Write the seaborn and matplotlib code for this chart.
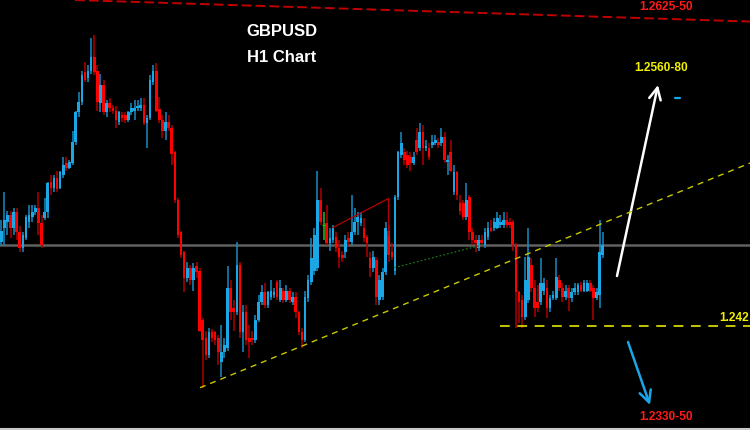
import numpy as np
import pandas as pd
import matplotlib
matplotlib.use("Agg")
import matplotlib.pyplot as plt
import seaborn as sns
from matplotlib.lines import Line2D

# --- GBPUSD H1 candles (oldest first) ---
opens = [1.2475, 1.2484, 1.2488, 1.2492, 1.2484, 1.2494, 1.2481, 1.2471, 1.2477, 1.2488,
         1.2491, 1.2494, 1.2497, 1.2487, 1.2490, 1.2494, 1.2514, 1.2510, 1.2516, 1.2510,
         1.2518, 1.2526, 1.2523, 1.2526, 1.2540, 1.2559, 1.2566, 1.2585, 1.2581, 1.2586,
         1.2595, 1.2586, 1.2565, 1.2577, 1.2559, 1.2565, 1.2562, 1.2560, 1.2553, 1.2557,
         1.2557, 1.2554, 1.2559, 1.2560, 1.2562, 1.2562, 1.2564, 1.2552, 1.2555, 1.2579,
         1.2586, 1.2561, 1.2554, 1.2547, 1.2553, 1.2549, 1.2533, 1.2502, 1.2481, 1.2468,
         1.2451, 1.2458, 1.2450, 1.2459, 1.2456, 1.2424, 1.2412, 1.2401, 1.2416, 1.2416,
         1.2412, 1.2397, 1.2403, 1.2406, 1.2445, 1.2432, 1.2429, 1.2460, 1.2416, 1.2429,
         1.2412, 1.2412, 1.2411, 1.2424, 1.2436, 1.2442, 1.2434, 1.2439, 1.2440, 1.2449,
         1.2437, 1.2443, 1.2437, 1.2443, 1.2436, 1.2439, 1.2429, 1.2416, 1.2411, 1.2438,
         1.2449, 1.2456, 1.2458, 1.2502, 1.2486, 1.2487, 1.2474, 1.2476, 1.2478, 1.2471,
         1.2466, 1.2468, 1.2477, 1.2475, 1.2481, 1.2488, 1.2487, 1.2484, 1.2478, 1.2464,
         1.2458, 1.2463, 1.2437, 1.2439, 1.2455, 1.2482, 1.2468, 1.2456, 1.2504, 1.2531,
         1.2533, 1.2531, 1.2530, 1.2526, 1.2541, 1.2536, 1.2546, 1.2536, 1.2536, 1.2538,
         1.2539, 1.2540, 1.2539, 1.2543, 1.2527, 1.2533, 1.2507, 1.2520, 1.2500, 1.2500,
         1.2491, 1.2504, 1.2481, 1.2476, 1.2471, 1.2476, 1.2473, 1.2478, 1.2484, 1.2484,
         1.2484, 1.2486, 1.2486, 1.2489, 1.2488, 1.2488, 1.2473, 1.2442, 1.2437, 1.2426,
         1.2437, 1.2460, 1.2445, 1.2436, 1.2436, 1.2443, 1.2445, 1.2432, 1.2438, 1.2438,
         1.2450, 1.2445, 1.2439, 1.2445, 1.2438, 1.2442, 1.2442, 1.2447, 1.2443, 1.2443,
         1.2448, 1.2445, 1.2438, 1.2440, 1.2466]
closes = [1.2482, 1.2489, 1.2492, 1.2484, 1.2494, 1.2481, 1.2471, 1.2479, 1.2491, 1.2492,
          1.2494, 1.2497, 1.2487, 1.2473, 1.2494, 1.2513, 1.2510, 1.2516, 1.2509, 1.2520,
          1.2525, 1.2523, 1.2527, 1.2540, 1.2559, 1.2566, 1.2583, 1.2580, 1.2586, 1.2595,
          1.2585, 1.2566, 1.2577, 1.2559, 1.2565, 1.2562, 1.2560, 1.2554, 1.2559, 1.2555,
          1.2554, 1.2559, 1.2562, 1.2562, 1.2563, 1.2564, 1.2552, 1.2555, 1.2580, 1.2586,
          1.2560, 1.2554, 1.2547, 1.2553, 1.2549, 1.2532, 1.2502, 1.2479, 1.2466, 1.2451,
          1.2458, 1.2450, 1.2458, 1.2455, 1.2417, 1.2411, 1.2401, 1.2416, 1.2412, 1.2411,
          1.2403, 1.2403, 1.2408, 1.2445, 1.2429, 1.2429, 1.2460, 1.2416, 1.2429, 1.2411,
          1.2410, 1.2411, 1.2424, 1.2436, 1.2442, 1.2434, 1.2442, 1.2443, 1.2442, 1.2439,
          1.2445, 1.2437, 1.2443, 1.2437, 1.2439, 1.2429, 1.2416, 1.2411, 1.2439, 1.2450,
          1.2464, 1.2479, 1.2502, 1.2488, 1.2486, 1.2474, 1.2477, 1.2484, 1.2471, 1.2465,
          1.2464, 1.2476, 1.2475, 1.2481, 1.2488, 1.2491, 1.2490, 1.2477, 1.2474, 1.2458,
          1.2465, 1.2439, 1.2450, 1.2455, 1.2484, 1.2466, 1.2465, 1.2504, 1.2533, 1.2539,
          1.2528, 1.2525, 1.2526, 1.2530, 1.2533, 1.2546, 1.2536, 1.2537, 1.2530, 1.2540,
          1.2541, 1.2538, 1.2543, 1.2528, 1.2528, 1.2521, 1.2520, 1.2505, 1.2495, 1.2491,
          1.2502, 1.2481, 1.2476, 1.2474, 1.2476, 1.2474, 1.2481, 1.2484, 1.2482, 1.2488,
          1.2490, 1.2488, 1.2489, 1.2486, 1.2486, 1.2473, 1.2442, 1.2436, 1.2426, 1.2450,
          1.2465, 1.2445, 1.2432, 1.2432, 1.2448, 1.2448, 1.2432, 1.2438, 1.2440, 1.2452,
          1.2445, 1.2439, 1.2443, 1.2438, 1.2442, 1.2445, 1.2447, 1.2443, 1.2448, 1.2448,
          1.2443, 1.2438, 1.2442, 1.2468, 1.2473]
highs = [1.2489, 1.2507, 1.2495, 1.2495, 1.2497, 1.2497, 1.2485, 1.2481, 1.2492, 1.2499,
         1.2499, 1.2499, 1.2507, 1.2492, 1.2503, 1.2514, 1.2518, 1.2518, 1.2521, 1.2521,
         1.2530, 1.2530, 1.2528, 1.2547, 1.2560, 1.2572, 1.2586, 1.2592, 1.2590, 1.2607,
         1.2609, 1.2590, 1.2584, 1.2580, 1.2567, 1.2568, 1.2564, 1.2563, 1.2560, 1.2559,
         1.2559, 1.2560, 1.2565, 1.2567, 1.2567, 1.2568, 1.2568, 1.2557, 1.2583, 1.2590,
         1.2591, 1.2569, 1.2557, 1.2559, 1.2557, 1.2551, 1.2534, 1.2503, 1.2482, 1.2469,
         1.2462, 1.2460, 1.2461, 1.2462, 1.2458, 1.2425, 1.2417, 1.2419, 1.2418, 1.2417,
         1.2414, 1.2421, 1.2412, 1.2459, 1.2450, 1.2437, 1.2475, 1.2462, 1.2434, 1.2434,
         1.2421, 1.2417, 1.2427, 1.2440, 1.2447, 1.2448, 1.2443, 1.2450, 1.2445, 1.2450,
         1.2450, 1.2445, 1.2447, 1.2445, 1.2442, 1.2442, 1.2430, 1.2419, 1.2443, 1.2453,
         1.2477, 1.2484, 1.2521, 1.2510, 1.2494, 1.2499, 1.2484, 1.2486, 1.2481, 1.2476,
         1.2469, 1.2479, 1.2481, 1.2505, 1.2497, 1.2494, 1.2494, 1.2490, 1.2479, 1.2468,
         1.2469, 1.2465, 1.2453, 1.2458, 1.2488, 1.2486, 1.2474, 1.2505, 1.2534, 1.2546,
         1.2536, 1.2534, 1.2533, 1.2533, 1.2549, 1.2552, 1.2551, 1.2541, 1.2539, 1.2544,
         1.2544, 1.2542, 1.2549, 1.2546, 1.2531, 1.2541, 1.2525, 1.2521, 1.2505, 1.2502,
         1.2513, 1.2505, 1.2484, 1.2479, 1.2479, 1.2479, 1.2484, 1.2488, 1.2489, 1.2490,
         1.2494, 1.2492, 1.2494, 1.2494, 1.2490, 1.2489, 1.2474, 1.2443, 1.2440, 1.2465,
         1.2484, 1.2464, 1.2450, 1.2447, 1.2464, 1.2451, 1.2450, 1.2440, 1.2443, 1.2464,
         1.2453, 1.2448, 1.2447, 1.2447, 1.2445, 1.2448, 1.2448, 1.2449, 1.2450, 1.2450,
         1.2450, 1.2447, 1.2445, 1.2489, 1.2481]
lows = [1.2472, 1.2473, 1.2479, 1.2477, 1.2479, 1.2476, 1.2468, 1.2468, 1.2476, 1.2484,
        1.2488, 1.2492, 1.2479, 1.2471, 1.2489, 1.2490, 1.2505, 1.2507, 1.2507, 1.2509,
        1.2516, 1.2521, 1.2522, 1.2525, 1.2538, 1.2556, 1.2564, 1.2579, 1.2579, 1.2584,
        1.2583, 1.2560, 1.2559, 1.2557, 1.2556, 1.2559, 1.2558, 1.2549, 1.2551, 1.2553,
        1.2552, 1.2553, 1.2557, 1.2554, 1.2560, 1.2560, 1.2551, 1.2536, 1.2554, 1.2577,
        1.2559, 1.2552, 1.2542, 1.2541, 1.2547, 1.2525, 1.2500, 1.2477, 1.2464, 1.2442,
        1.2449, 1.2447, 1.2443, 1.2451, 1.2416, 1.2380, 1.2398, 1.2399, 1.2410, 1.2408,
        1.2395, 1.2387, 1.2399, 1.2404, 1.2424, 1.2417, 1.2427, 1.2412, 1.2403, 1.2408,
        1.2399, 1.2408, 1.2409, 1.2423, 1.2434, 1.2432, 1.2432, 1.2437, 1.2438, 1.2437,
        1.2436, 1.2435, 1.2436, 1.2435, 1.2434, 1.2425, 1.2414, 1.2406, 1.2410, 1.2436,
        1.2447, 1.2453, 1.2456, 1.2486, 1.2476, 1.2473, 1.2469, 1.2474, 1.2468, 1.2458,
        1.2462, 1.2464, 1.2472, 1.2473, 1.2479, 1.2479, 1.2485, 1.2475, 1.2465, 1.2452,
        1.2455, 1.2434, 1.2434, 1.2437, 1.2453, 1.2462, 1.2463, 1.2453, 1.2502, 1.2529,
        1.2525, 1.2523, 1.2521, 1.2525, 1.2531, 1.2534, 1.2525, 1.2534, 1.2528, 1.2536,
        1.2538, 1.2536, 1.2537, 1.2526, 1.2518, 1.2520, 1.2505, 1.2502, 1.2492, 1.2489,
        1.2489, 1.2476, 1.2473, 1.2468, 1.2469, 1.2472, 1.2471, 1.2476, 1.2481, 1.2482,
        1.2483, 1.2484, 1.2484, 1.2484, 1.2484, 1.2469, 1.2419, 1.2422, 1.2419, 1.2424,
        1.2435, 1.2442, 1.2426, 1.2429, 1.2434, 1.2440, 1.2425, 1.2429, 1.2437, 1.2437,
        1.2443, 1.2436, 1.2437, 1.2430, 1.2436, 1.2440, 1.2440, 1.2442, 1.2442, 1.2442,
        1.2442, 1.2424, 1.2437, 1.2432, 1.2464]

# drawn objects on the chart (bar index, price)
grey_level = 1.2473
support_bars = [64.1, 241.5]
support_prices = [1.2380, 1.2526]
resist_bars = [23.8, 241.5]
resist_prices = [1.2632, 1.2618]
floor_bars = [160.9, 241.5]
floor_price = 1.2420
tri_bars = [106.9, 124.9, 124.9]
tri_prices = [1.2484, 1.2503, 1.2479]
dot_bars = [126.8, 155.5]
dot_prices = [1.2458, 1.2473]

df = pd.DataFrame({"open": opens, "high": highs, "low": lows, "close": closes})
df["bar"] = np.arange(len(df))

sns.set_theme(style="dark", rc={"axes.facecolor": "black", "figure.facecolor": "black",
                               "lines.scale_dashes": False})
plt.rcParams["font.family"] = ["Liberation Sans", "DejaVu Sans"]

fig = plt.figure(figsize=(7.5, 4.3), dpi=100)
ax = fig.add_axes([0, 0, 1, 1])

ax.axhline(grey_level, color="#606060", lw=1.8, zorder=1)

up = df[df["close"] > df["open"]]
dn = df[df["close"] < df["open"]]
flat = df[df["close"] == df["open"]]

ax.vlines(up["bar"], up["low"], up["high"], color="#168cc4", lw=1.1, zorder=2)
ax.vlines(dn["bar"], dn["low"], dn["high"], color="#b00000", lw=1.1, zorder=2)
ax.vlines(flat["bar"], flat["low"], flat["high"], color="#22bb22", lw=1.1, zorder=2)
ax.bar(up["bar"], np.maximum(up["close"] - up["open"], 0.00008), bottom=up["open"],
       width=0.85, color="#1ba6e6", linewidth=0, zorder=3)
ax.bar(dn["bar"], np.maximum(dn["open"] - dn["close"], 0.00008), bottom=dn["close"],
       width=0.85, color="#ff0000", linewidth=0, zorder=3)
ax.hlines(flat["open"], flat["bar"] - 0.4, flat["bar"] + 0.4, color="#22bb22", lw=1.0, zorder=3)

# trend lines and levels
ax.plot(support_bars, support_prices, color="#c8c800", lw=1.0, dashes=(4.3, 3.6), zorder=4)
ax.plot(resist_bars, resist_prices, color="#c00000", lw=1.4, dashes=(7, 3), zorder=4)
ax.plot(floor_bars, [floor_price] * 2, color="#e6e600", lw=1.2, dashes=(7, 5.5), zorder=4)
ax.plot(tri_bars, tri_prices, color="#b80000", lw=0.9, zorder=4)
ax.plot(dot_bars, dot_prices, color="#1d7a1d", lw=0.9, dashes=(1.2, 1.6), zorder=4)

ax.set_xlim(-0.39, 241.5)
ax.set_ylim(1.23525, 1.2632)
ax.set_xticks([])
ax.set_yticks([])
for s in ax.spines.values():
    s.set_visible(False)
ax.grid(False)

W, H = 750, 430
def fx(px):
    return px / W
def fy(py):
    return 1 - py / H

bold = dict(fontweight="bold", transform=ax.transAxes, va="center")
ax.text(fx(282), fy(32), "GBPUSD", color="white", fontsize=12, ha="center", **bold)
ax.text(fx(282), fy(57), "H1 Chart", color="white", fontsize=12, ha="center", **bold)
ax.text(fx(666), fy(7.5), "1.2625-50", color="#ff1a1a", fontsize=8.6, ha="center", **bold)
ax.text(fx(661), fy(68), "1.2560-80", color="#f0f000", fontsize=8.6, ha="center", **bold)
ax.text(fx(666), fy(417.5), "1.2330-50", color="#ff1a1a", fontsize=8.6, ha="center", **bold)
ax.text(fx(749), fy(318), "1.242", color="#f0f000", fontsize=8.6, ha="right", **bold)

ax.annotate("", xy=(fx(658), fy(85)), xytext=(fx(617), fy(276)), xycoords="axes fraction",
            arrowprops=dict(arrowstyle="->,head_length=0.6,head_width=0.3", color="white",
                            lw=1.8, shrinkA=0, shrinkB=0, mutation_scale=14))
ax.annotate("", xy=(fx(650), fy(405)), xytext=(fx(628), fy(342)), xycoords="axes fraction",
            arrowprops=dict(arrowstyle="->,head_length=0.6,head_width=0.3", color="#1ba6e6",
                            lw=1.8, shrinkA=0, shrinkB=0, mutation_scale=14))
ax.plot([fx(675), fx(680)], [fy(98), fy(98)], color="#1ba6e6", lw=1.6, transform=ax.transAxes)

fig.add_artist(Line2D([0, 1], [0.002, 0.002], transform=fig.transFigure, color="#c8c8c8", lw=1.5))

fig.savefig("out.png", dpi=100, facecolor="black")
